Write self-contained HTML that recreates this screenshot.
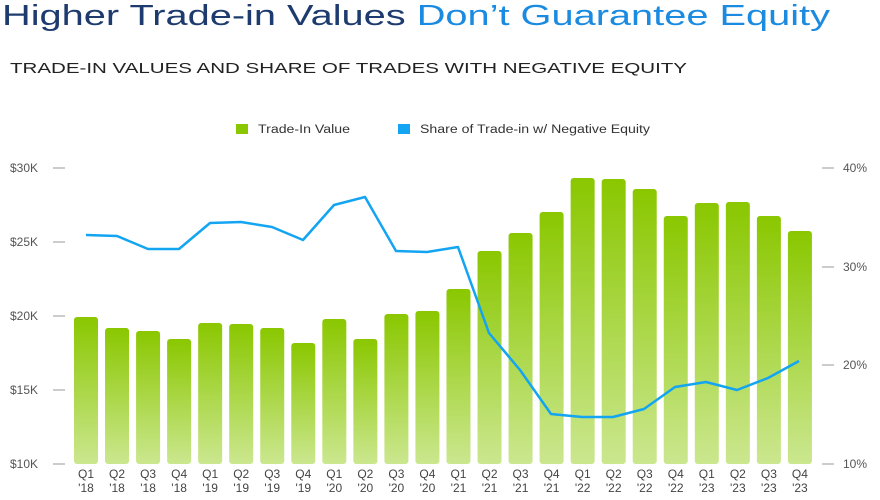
<!DOCTYPE html><html><head><style>body{margin:0;background:#fff;width:880px;height:495px;overflow:hidden;font-family:"Liberation Sans",sans-serif}</style></head><body>
<svg width="880" height="495" xmlns="http://www.w3.org/2000/svg" font-family="Liberation Sans, sans-serif">
<defs><linearGradient id="g" x1="0" y1="0" x2="0" y2="1"><stop offset="0" stop-color="#8ac700"/><stop offset="1" stop-color="#cbe78f"/></linearGradient></defs>
<text x="2" y="25" font-size="29" fill="#1d3b6e" textLength="828" lengthAdjust="spacingAndGlyphs">Higher Trade-in Values <tspan fill="#1a8be0">Don’t Guarantee Equity</tspan></text>
<text x="10" y="73" font-size="15" fill="#222" textLength="677" lengthAdjust="spacingAndGlyphs">TRADE-IN VALUES AND SHARE OF TRADES WITH NEGATIVE EQUITY</text>
<rect x="236" y="124" width="12" height="10" fill="#8ac700"/><text x="258" y="133" font-size="11.5" fill="#333" textLength="92" lengthAdjust="spacingAndGlyphs">Trade-In Value</text>
<rect x="398" y="124" width="12" height="10" fill="#13a4f2"/><text x="420" y="133" font-size="11.5" fill="#333" textLength="230" lengthAdjust="spacingAndGlyphs">Share of Trade-in w/ Negative Equity</text>
<g font-size="12" fill="#555">
<text x="10" y="172">$30K</text><text x="10" y="246">$25K</text><text x="10" y="320">$20K</text><text x="10" y="394">$15K</text><text x="10" y="468">$10K</text>
<text x="843" y="172">40%</text><text x="843" y="271">30%</text><text x="843" y="369">20%</text><text x="843" y="468">10%</text>
</g>
<g stroke="#999" stroke-width="1"><line x1="53" y1="168" x2="65" y2="168"/><line x1="53" y1="242" x2="65" y2="242"/><line x1="53" y1="316" x2="65" y2="316"/><line x1="53" y1="390" x2="65" y2="390"/><line x1="53" y1="464" x2="65" y2="464"/>
<line x1="822" y1="168" x2="834" y2="168"/><line x1="822" y1="267" x2="834" y2="267"/><line x1="822" y1="365" x2="834" y2="365"/><line x1="822" y1="464" x2="834" y2="464"/></g>
<g id="bars"></g>
<g id="lbl" font-size="12" fill="#444" text-anchor="middle"></g>
<polyline fill="none" stroke="#13a4f2" stroke-width="2.5" stroke-linejoin="round" points="86,235 117,236 148,249 179,249 210,223 241,222 272,227 303,240 334,205 365,197 396,251 427,252 458,247 489,333 520,370 551,414 582,417 613,417 644,409 675,387 706,382 737,390 768,378 799,361"/>
<script>
var t=[317,328,331,339,323,324,328,343,319,339,314,311,289,251,233,212,178,179,189,216,203,202,216,231];
var b=document.getElementById('bars'),l=document.getElementById('lbl'),ns='http://www.w3.org/2000/svg';
var yr=['18','19','20','21','22','23'];
t.forEach(function(y,i){var x=86+i*31.04;var r=document.createElementNS(ns,'rect');r.setAttribute('x',x-12);r.setAttribute('y',y);r.setAttribute('width',24);r.setAttribute('height',464-y);r.setAttribute('rx',3);r.setAttribute('fill','url(#g)');b.appendChild(r);
var a=document.createElementNS(ns,'text');a.setAttribute('x',x);a.setAttribute('y',478);a.textContent='Q'+(i%4+1);l.appendChild(a);
var c=document.createElementNS(ns,'text');c.setAttribute('x',x);c.setAttribute('y',492);c.textContent="'"+yr[Math.floor(i/4)];l.appendChild(c);});
</script>
</svg></body></html>
